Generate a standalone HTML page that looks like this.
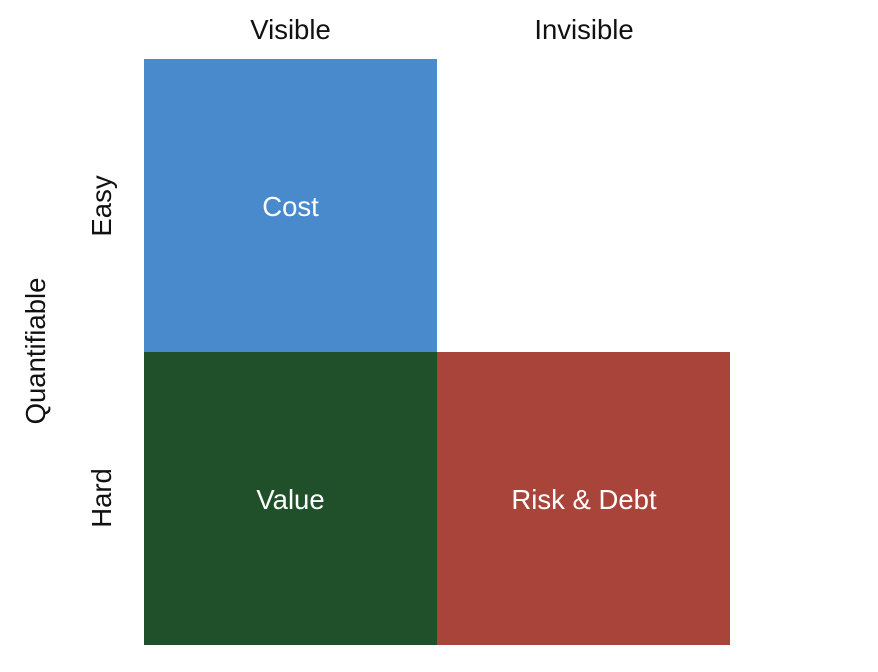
<!DOCTYPE html>
<html><head><meta charset="utf-8"><style>
html,body{margin:0;padding:0;background:#fff;width:878px;height:672px;overflow:hidden}
svg text{font-family:"Liberation Sans",sans-serif;font-size:27.5px}
</style></head><body>
<svg width="878" height="672" viewBox="0 0 878 672" xmlns="http://www.w3.org/2000/svg">
<rect x="144" y="59" width="293" height="293" fill="#488acb"/>
<rect x="144" y="352" width="293" height="293" fill="#1f5029"/>
<rect x="437" y="352" width="293" height="293" fill="#a9443b"/>
<text x="290.5" y="39" text-anchor="middle" fill="#111">Visible</text>
<text x="584" y="39" text-anchor="middle" fill="#111">Invisible</text>
<text x="290.5" y="216" text-anchor="middle" fill="#fff">Cost</text>
<text x="290.5" y="509" text-anchor="middle" fill="#fff">Value</text>
<text x="584" y="509" text-anchor="middle" fill="#fff">Risk &amp; Debt</text>
<text transform="translate(111,206) rotate(-90)" text-anchor="middle" fill="#111">Easy</text>
<text transform="translate(111,498) rotate(-90)" text-anchor="middle" fill="#111">Hard</text>
<text transform="translate(45,351) rotate(-90)" text-anchor="middle" fill="#111">Quantifiable</text>
</svg>
</body></html>
